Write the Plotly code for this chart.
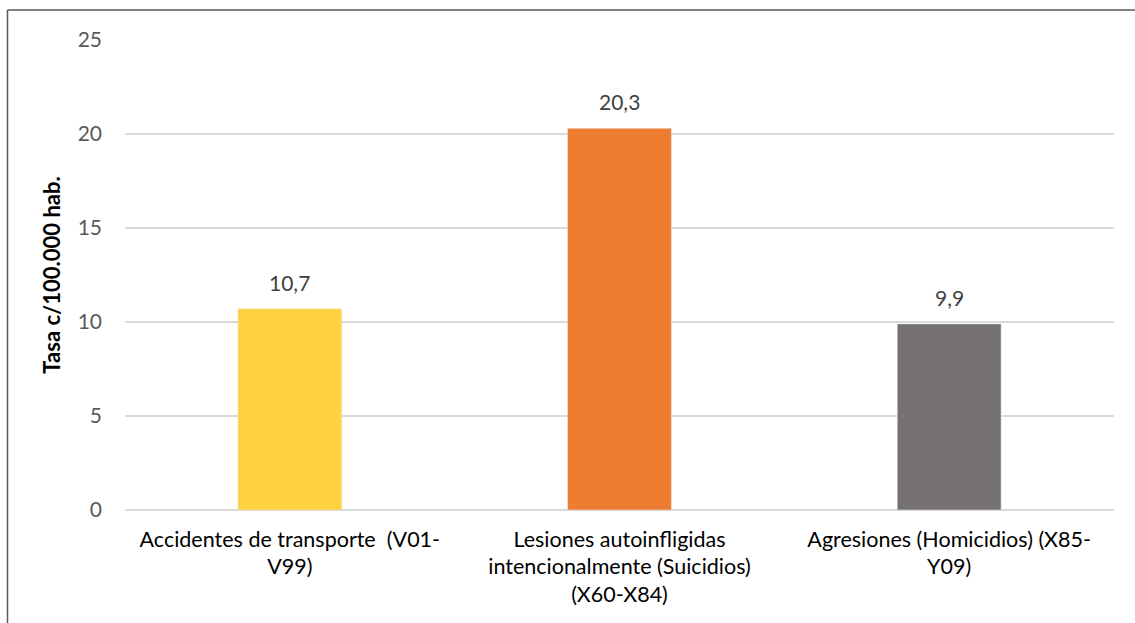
import plotly.graph_objects as go

categories = [
    "Accidentes de transporte  (V01-<br>V99)",
    "Lesiones autoinfligidas<br>intencionalmente (Suicidios)<br>(X60-X84)",
    "Agresiones (Homicidios) (X85-<br>Y09)",
]
values = [10.7, 20.3, 9.9]
labels = ["10,7", "20,3", "9,9"]
colors = ["#FFD23F", "#ED7D31", "#767171"]
tick_vals = [0, 5, 10, 15, 20, 25]

W, H = 1135, 623
L, R, T, B = 125, 21, 40, 113
pw, ph = W - L - R, H - T - B

def px_x(p):
    return (p - L) / pw

def px_y(p):
    return (H - B - p) / ph

fig = go.Figure(go.Bar(
    x=categories, y=values, marker_color=colors,
    hoverinfo="skip",
))

for c, v, t in zip(categories, values, labels):
    fig.add_annotation(
        x=c, y=v, text=t, showarrow=False,
        yanchor="bottom", yshift=12,
        font=dict(family="Lato", size=21, color="#404040"),
    )

fig.update_layout(
    width=W, height=H,
    margin=dict(l=L, r=R, t=T, b=B),
    plot_bgcolor="white", paper_bgcolor="white",
    bargap=0.685,
    showlegend=False,
    font=dict(family="Lato"),
    xaxis=dict(
        tickfont=dict(family="Lato", size=21.5, color="#000000"),
        showgrid=False, showline=False, ticks="",
        ticklabelstandoff=14,
    ),
    yaxis=dict(
        range=[0, 25], tickvals=tick_vals,
        tickfont=dict(family="Lato", size=21, color="#595959"),
        gridcolor="#D9D9D9", gridwidth=1.5,
        zeroline=True, zerolinecolor="#D9D9D9", zerolinewidth=1.5,
        showline=False, ticks="", ticklabelstandoff=22,
        title=dict(text="<b>Tasa c/100.000 hab.</b>",
                   font=dict(family="Lato", size=22, color="#000000"),
                   standoff=10),
    ),
    shapes=[
        dict(type="line", xref="paper", yref="paper",
             x0=px_x(7.5), x1=px_x(1140), y0=px_y(10), y1=px_y(10),
             line=dict(color="#595959", width=1.5)),
        dict(type="line", xref="paper", yref="paper",
             x0=px_x(7.5), x1=px_x(7.5), y0=px_y(10), y1=px_y(630),
             line=dict(color="#595959", width=1.5)),
    ],
)

fig.write_html("out.html")
